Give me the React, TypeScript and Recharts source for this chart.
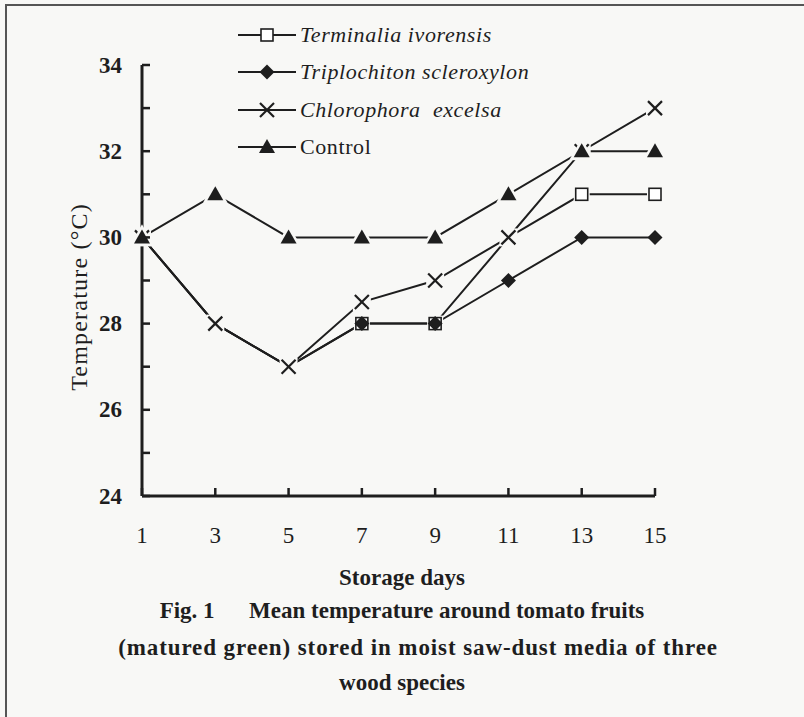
import { LineChart, Line, XAxis, YAxis } from "recharts";

const days = [1, 3, 5, 7, 9, 11, 13, 15];
const terminalia = [30, 28, 27, 28, 28, 30, 31, 31];
const triplochiton = [30, 28, 27, 28, 28, 29, 30, 30];
const chlorophora = [30, 28, 27, 28.5, 29, 30, 32, 33];
const control = [30, 31, 30, 30, 30, 31, 32, 32];
const tempTicks = [24, 25, 26, 27, 28, 29, 30, 31, 32, 33, 34];
const labelledTemps = [24, 26, 28, 30, 32, 34];

const seriesKeys = ["terminalia", "triplochiton", "chlorophora", "control"];
const seriesNames: Record<string, string> = {
	terminalia: "Terminalia ivorensis",
	triplochiton: "Triplochiton scleroxylon",
	chlorophora: "Chlorophora  excelsa",
	control: "Control",
};

const data = days.map((day, i) => ({
	day,
	terminalia: terminalia[i],
	triplochiton: triplochiton[i],
	chlorophora: chlorophora[i],
	control: control[i],
}));

const INK = "#1e1e1e";
const PAPER = "#f8f8f6";
const SERIF = '"Liberation Serif", "Times New Roman", serif';
const X_MARGIN = 39;
const Y_MARGIN = 20;

// halo = paper-coloured backing so lines break around the marker, like the scan
function Marker({ kind, cx, cy, halo }: { kind: string; cx: number; cy: number; halo?: boolean }) {
	if (kind === "terminalia") {
		return (
			<g>
				{halo && <rect x={cx - 8} y={cy - 8} width={16} height={16} fill={PAPER} />}
				<rect x={cx - 6} y={cy - 6} width={12} height={12} fill="#fff" stroke={INK} strokeWidth={1.6} />
			</g>
		);
	}
	if (kind === "triplochiton") {
		return (
			<polygon
				points={`${cx},${cy - 7.5} ${cx + 7.5},${cy} ${cx},${cy + 7.5} ${cx - 7.5},${cy}`}
				fill={INK}
			/>
		);
	}
	if (kind === "chlorophora") {
		return (
			<g>
				{halo && <rect x={cx - 9} y={cy - 9} width={18} height={18} fill={PAPER} />}
				<g stroke={INK} strokeWidth={2.2}>
					<line x1={cx - 7} y1={cy - 7} x2={cx + 7} y2={cy + 7} />
					<line x1={cx - 7} y1={cy + 7} x2={cx + 7} y2={cy - 7} />
				</g>
			</g>
		);
	}
	const tri = `${cx},${cy - 8} ${cx + 8},${cy + 6} ${cx - 8},${cy + 6}`;
	return (
		<g>
			{halo && <polygon points={tri} fill={PAPER} stroke={PAPER} strokeWidth={5} />}
			<polygon points={tri} fill={INK} />
		</g>
	);
}

function makeDot(kind: string) {
	return (props: any) => (
		<Marker key={`${kind}-${props.index}`} kind={kind} cx={props.cx} cy={props.cy} halo />
	);
}

function DayTick(props: any) {
	const { x, y, payload } = props;
	const axisY = y - X_MARGIN;
	return (
		<g>
			<line x1={x} x2={x} y1={axisY} y2={axisY - 8} stroke={INK} strokeWidth={2.5} />
			<text
				x={x}
				y={y}
				textAnchor="middle"
				dominantBaseline="central"
				fontFamily={SERIF}
				fontSize={23}
				fill={INK}
			>
				{payload.value}
			</text>
		</g>
	);
}

function TempTick(props: any) {
	const { x, y, payload } = props;
	const axisX = x + Y_MARGIN;
	const show = labelledTemps.includes(payload.value);
	return (
		<g>
			<line x1={axisX} x2={axisX + 8} y1={y} y2={y} stroke={INK} strokeWidth={2.5} />
			{show && (
				<text
					x={x}
					y={y}
					textAnchor="end"
					dominantBaseline="central"
					fontFamily={SERIF}
					fontWeight="bold"
					fontSize={23}
					fill={INK}
				>
					{payload.value}
				</text>
			)}
		</g>
	);
}

function LegendBox() {
	return (
		<div
			style={{
				position: "absolute",
				left: 236,
				top: 16,
				fontFamily: SERIF,
				fontSize: 22,
				color: INK,
			}}
		>
			{seriesKeys.map((key) => (
				<div key={key} style={{ display: "flex", alignItems: "center", height: 37.5 }}>
					<svg width={64} height={20} style={{ flex: "none" }}>
						<line x1={2} x2={60} y1={10} y2={10} stroke={INK} strokeWidth={2} />
						<Marker kind={key} cx={31} cy={10} />
					</svg>
					<span
						style={{
							fontStyle: key === "control" ? "normal" : "italic",
							whiteSpace: "pre",
							letterSpacing: 0.6,
						}}
					>
						{seriesNames[key]}
					</span>
				</div>
			))}
		</div>
	);
}

const captionLine = {
	position: "absolute" as const,
	left: 0,
	width: 804,
	textAlign: "center" as const,
	fontFamily: SERIF,
	fontWeight: "bold" as const,
	fontSize: 23,
	color: INK,
	whiteSpace: "pre" as const,
};

export default function App() {
	return (
		<div
			style={{
				position: "absolute",
				left: 0,
				top: 0,
				width: 804,
				height: 717,
				background: PAPER,
				overflow: "hidden",
			}}
		>
			<div style={{ position: "absolute", left: 7, top: 4, width: 797, height: 2, background: "#555" }} />
			<div style={{ position: "absolute", left: 5, top: 4, width: 2, height: 713, background: "#555" }} />
			<div style={{ position: "absolute", left: 0, top: 0 }}>
				<LineChart
					width={804}
					height={717}
					data={data}
					margin={{ top: 65, right: 149, bottom: 161, left: 82 }}
				>
					<XAxis
						dataKey="day"
						type="number"
						domain={[1, 15]}
						ticks={days}
						height={60}
						tickSize={0}
						tickMargin={X_MARGIN}
						tick={<DayTick />}
						tickLine={false}
						axisLine={{ stroke: INK, strokeWidth: 3 }}
					/>
					<YAxis
						type="number"
						domain={[24, 34]}
						ticks={tempTicks}
						width={60}
						interval={0}
						tickSize={0}
						tickMargin={Y_MARGIN}
						tick={<TempTick />}
						tickLine={false}
						axisLine={{ stroke: INK, strokeWidth: 3 }}
					/>
					<Line
						dataKey="terminalia"
						name={seriesNames.terminalia}
						stroke={INK}
						strokeWidth={2}
						dot={makeDot("terminalia")}
						isAnimationActive={false}
					/>
					<Line
						dataKey="triplochiton"
						name={seriesNames.triplochiton}
						stroke={INK}
						strokeWidth={2}
						dot={makeDot("triplochiton")}
						isAnimationActive={false}
					/>
					<Line
						dataKey="chlorophora"
						name={seriesNames.chlorophora}
						stroke={INK}
						strokeWidth={2}
						dot={makeDot("chlorophora")}
						isAnimationActive={false}
					/>
					<Line
						dataKey="control"
						name={seriesNames.control}
						stroke={INK}
						strokeWidth={2}
						dot={makeDot("control")}
						isAnimationActive={false}
					/>
				</LineChart>
			</div>
			<LegendBox />
			<div
				style={{
					position: "absolute",
					left: 79,
					top: 297,
					transform: "translate(-50%, -50%) rotate(-90deg)",
					fontFamily: SERIF,
					fontSize: 24,
					letterSpacing: 1.2,
					color: INK,
					whiteSpace: "nowrap",
				}}
			>
				Temperature (°C)
			</div>
			<div style={{ ...captionLine, top: 565 }}>Storage days</div>
			<div style={{ ...captionLine, top: 598 }}>{"Fig. 1      Mean temperature around tomato fruits"}</div>
			<div style={{ ...captionLine, top: 635, left: 16, letterSpacing: 0.9 }}>
				(matured green) stored in moist saw-dust media of three
			</div>
			<div style={{ ...captionLine, top: 670 }}>wood species</div>
		</div>
	);
}
